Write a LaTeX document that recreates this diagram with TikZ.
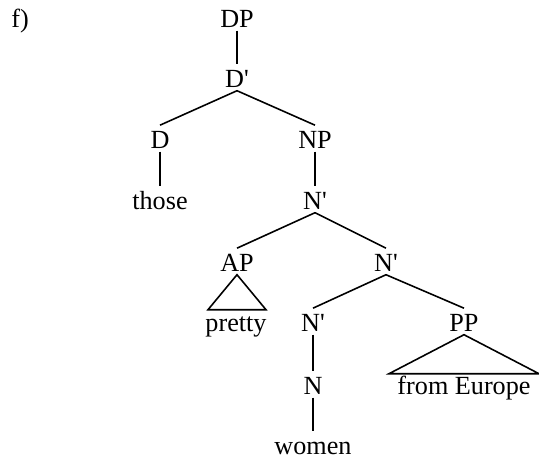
\documentclass[tikz,border=0pt]{standalone}
\usepackage{fontspec}
\setmainfont{Liberation Serif}
\begin{document}
\begin{tikzpicture}[x=0.02cm,y=-0.02cm,line width=0.9pt,
		lbl/.style={anchor=base,inner sep=0pt,text height=13.1pt,text depth=1.1pt,font=\fontsize{14.9}{18}\selectfont}]
	\def\p{\textquotesingle}
	\useasboundingbox (0,0) rectangle (539,465);
	\node[lbl] (f) at (20,28) {f)};
	% nodes
	\node[lbl] (DP) at (237,28) {DP};
	\node[lbl] (Dbar) at (237,88) {D\p};
	\node[lbl] (D) at (160,149) {D};
	\node[lbl] (NP) at (315,149) {NP};
	\node[lbl] (those) at (160,210) {those};
	\node[lbl] (Nbar) at (315,210) {N\p};
	\node[lbl] (AP) at (237,272) {AP};
	\node[lbl] (Nbarr) at (386,272) {N\p};
	\node[lbl] (pretty) at (236,332) {pretty};
	\node[lbl] (Nbarl) at (313,332) {N\p};
	\node[lbl] (PP) at (464,332) {PP};
	\node[lbl] (N) at (313,395) {N};
	\node[lbl] (europe) at (464,395) {from Europe};
	\node[lbl] (women) at (313,455) {women};
	% branches
	\draw (DP.south) -- (Dbar.north);
	\draw (Dbar.south) -- (D.north);
	\draw (Dbar.south) -- (NP.north);
	\draw (D.south) -- (those.north);
	\draw (NP.south) -- (Nbar.north);
	\draw (Nbar.south) -- (AP.north);
	\draw (Nbar.south) -- (Nbarr.north);
	\draw (Nbarr.south) -- (Nbarl.north);
	\draw (Nbarr.south) -- (PP.north);
	\draw (Nbarl.south) -- (N.north);
	\draw (N.south) -- (women.north);
	% triangles
	\draw (AP.south) -- ++(-29,35) -- ++(58,0) -- cycle;
	\draw (PP.south) -- ++(-75,39) -- ++(150,0) -- cycle;
\end{tikzpicture}
\end{document}
